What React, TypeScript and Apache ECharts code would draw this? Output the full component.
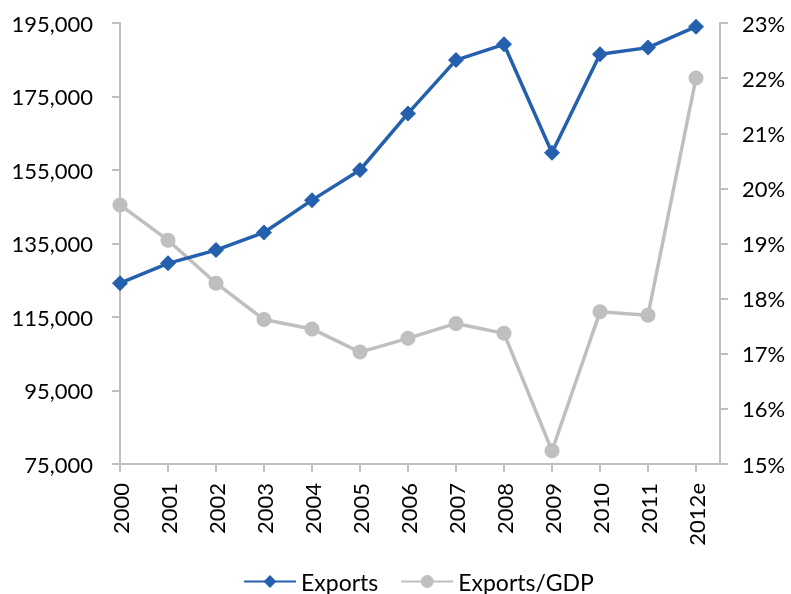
import React, { useEffect, useRef } from "react";
import * as echarts from "echarts";

const categories = ["2000", "2001", "2002", "2003", "2004", "2005", "2006", "2007", "2008", "2009", "2010", "2011", "2012e"];
const exportsValues = [124200, 129600, 133200, 138000, 146800, 155000, 170400, 184900, 189200, 159700, 186500, 188300, 194000];
const exportsGdp = [19.7, 19.06, 18.28, 17.62, 17.45, 17.03, 17.28, 17.55, 17.37, 15.24, 17.76, 17.7, 22.0];

const FONT = "Lato";
const BLUE = "#2460AD";
const GREY = "#BFBFBF";

export default function App() {
  const ref = useRef<HTMLDivElement>(null);
  useEffect(() => {
    if (!ref.current) return;
    const chart = echarts.init(ref.current, null, { renderer: "svg" });
    const idx = categories.map((_, i) => i);
    chart.setOption({
      animation: false,
      textStyle: { fontFamily: FONT },
      grid: { left: 120, right: 71, top: 23, bottom: 130, containLabel: false },
      legend: {
        left: 238,
        top: 565,
        itemWidth: 52,
        itemHeight: 16,
        itemGap: 22,
        textStyle: { fontSize: 23, color: "#000", fontFamily: FONT },
        data: ["Exports", "Exports/GDP"],
      },
      xAxis: {
        type: "value",
        min: 0,
        max: 12.5,
        interval: 1,
        splitLine: { show: false },
        axisLine: { show: true, lineStyle: { color: GREY, width: 2 } },
        axisTick: { show: true, length: 8, lineStyle: { color: GREY, width: 2 }, customValues: idx },
        axisLabel: {
          customValues: idx,
          rotate: 90,
          margin: 19,
          fontSize: 22,
          color: "#000",
          fontFamily: FONT,
          formatter: (v: number) => categories[Math.round(v)] ?? "",
        },
      },
      yAxis: [
        {
          type: "value",
          min: 75000,
          max: 195000,
          interval: 20000,
          position: "left",
          splitLine: { show: false },
          axisLine: { show: true, lineStyle: { color: GREY, width: 2 } },
          axisTick: { show: true, length: 8, lineStyle: { color: GREY, width: 2 } },
          axisLabel: {
            margin: 27,
            fontSize: 22,
            color: "#000",
            fontFamily: FONT,
            formatter: (v: number) => v.toLocaleString("en-US"),
          },
        },
        {
          type: "value",
          min: 15,
          max: 23,
          interval: 1,
          position: "right",
          splitLine: { show: false },
          axisLine: { show: true, lineStyle: { color: GREY, width: 2 } },
          axisTick: { show: true, length: 8, lineStyle: { color: GREY, width: 2 } },
          axisLabel: {
            margin: 22,
            fontSize: 22,
            color: "#000",
            fontFamily: FONT,
            formatter: (v: number) => `${v}%`,
          },
        },
      ],
      series: [
        {
          name: "Exports",
          type: "line",
          yAxisIndex: 0,
          data: exportsValues.map((v, i) => [i, v]),
          symbol: "diamond",
          symbolSize: 16,
          lineStyle: { color: BLUE, width: 3.5 },
          itemStyle: { color: BLUE },
          z: 3,
        },
        {
          name: "Exports/GDP",
          type: "line",
          yAxisIndex: 1,
          data: exportsGdp.map((v, i) => [i, v]),
          symbol: "circle",
          symbolSize: 15,
          lineStyle: { color: GREY, width: 3.5 },
          itemStyle: { color: GREY },
          z: 2,
        },
      ],
    });
    return () => chart.dispose();
  }, []);
  return <div ref={ref} style={{ position: "fixed", left: 0, top: 0, width: 791, height: 594 }} />;
}
